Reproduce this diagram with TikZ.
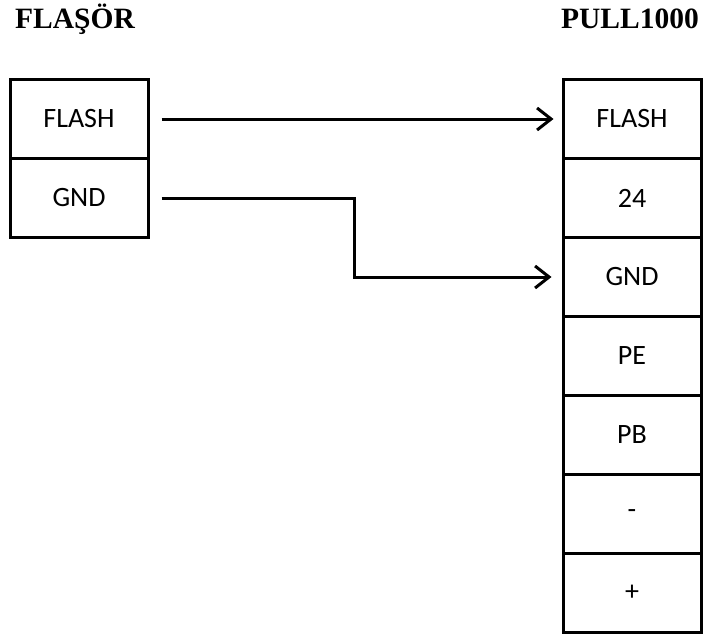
\documentclass[tikz,border=0pt]{standalone}
\usepackage{fontspec}
\setmainfont{Liberation Serif}
\newfontfamily\boxfont{Carlito}
\usetikzlibrary{arrows.meta}
\tikzset{
  cell/.style={draw, line width=3pt, minimum width=138pt, minimum height=79pt, inner sep=0pt, font=\boxfont\fontsize{28}{32}\selectfont},
  title/.style={inner sep=0pt, font=\bfseries\fontsize{29.5}{33}\selectfont},
  wire/.style={line width=3pt, -{Straight Barb[length=14pt,width=22pt,line width=3pt]}}
}
\begin{document}
\begin{tikzpicture}[x=1pt,y=-1pt]
\useasboundingbox (0,0) rectangle (705,640);
\node[title, anchor=base west] (t1) at (15,28) {FLAŞÖR};
\node[title, anchor=base east] (t2) at (699,28) {PULL1000};
% left block
\node[cell] (lf) at (79,119) {FLASH};
\node[cell] (lg) at (79,198) {GND};
% right block
\node[cell] (rf) at (632,119) {FLASH};
\node[cell] (r24) at (632,198) {24};
\node[cell] (rg) at (632,277) {GND};
\node[cell] (rpe) at (632,356) {PE};
\node[cell] (rpb) at (632,435) {PB};
\node[cell] (rm) at (632,514) {-};
\node[cell] (rp) at (632,593) {+};
% connectors
\draw[wire, shorten <=12pt, shorten >=8pt] (lf.east) -- (rf.west);
\draw[wire, shorten <=12pt, shorten >=10pt] (lg.east) -- ++(205,0) |- (rg.west);
\end{tikzpicture}
\end{document}
